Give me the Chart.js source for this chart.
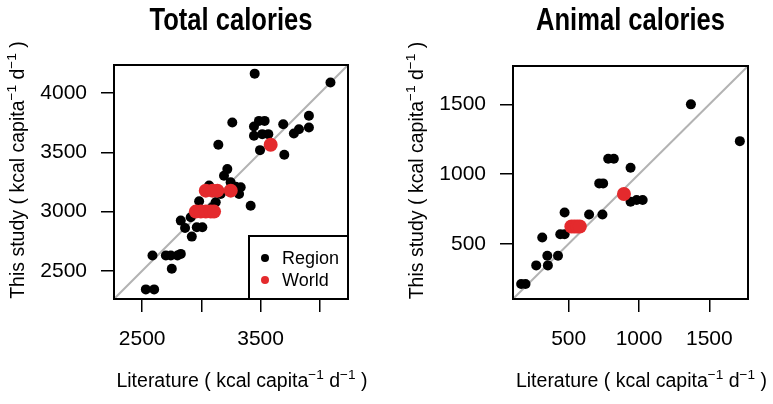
<!DOCTYPE html>
<html>
<head>
<meta charset="utf-8">
<script src="https://cdn.jsdelivr.net/npm/chart.js@4/dist/chart.umd.min.js"></script>
<style>
  body { margin: 0; background: #fff; }
  .wrap { display: flex; width: 773px; height: 404px; }
  canvas { display: block; }
</style>
</head>
<body>
<div class="wrap">
  <canvas id="total" width="386" height="404"></canvas>
  <canvas id="animal" width="387" height="404"></canvas>
</div>
<script>
// Total calories (kcal capita-1 d-1), literature vs this study
const totalRegionX = [3450, 4090, 3908, 3908, 3824, 3781, 3691, 3700, 3261, 3486, 3534, 3444, 3444, 3514, 3565, 3495,
  3143, 3219, 3191, 3247, 3332, 3318, 3163, 3416, 2981, 3121, 2826, 2862, 2961, 3008, 2919, 2910,
  2587, 2700, 2742, 2798, 2826, 2750, 2531, 2601, 3065, 3290, 3093];
const totalRegionY = [4165, 4090, 3809, 3710, 3696, 3660, 3738, 3480, 3753, 3766, 3766, 3719, 3640, 3654, 3654, 3519,
  3564, 3359, 3303, 3247, 3205, 3149, 3149, 3050, 3087, 3079, 2924, 2862, 2868, 2868, 2789, 2952,
  2629, 2629, 2629, 2629, 2643, 2517, 2343, 2343, 3220, 3210, 3036];
const totalWorldX = [3585, 3037, 3093, 3135, 3248, 2953, 2995, 3037, 3079, 3107];
const totalWorldY = [3564, 3177, 3177, 3177, 3177, 3000, 3000, 3000, 3000, 3000];

// Animal calories
const animalRegionX = [1369, 1717, 781, 821, 940, 717, 745, 940, 983, 1026, 471, 645, 740, 440, 471, 312, 348, 424, 269, 352, 162, 193];
const animalRegionY = [1500, 1236, 1110, 1110, 1045, 933, 933, 802, 814, 814, 724, 710, 710, 569, 569, 545, 414, 414, 345, 345, 212, 212];
const animalWorldX = [893, 519, 540, 560, 579];
const animalWorldY = [857, 624, 624, 624, 624];

// axes
const totalRange = [2262, 4238];
const animalRange = [104, 1775];
const totalTicks = [2500, 3000, 3500, 4000];
const totalXTickLabels = ['2500', '', '3500', ''];
const totalYTickLabels = ['2500', '3000', '3500', '4000'];
const animalTicks = [500, 1000, 1500];
const animalTickLabels = ['500', '1000', '1500'];

const seriesNames = ['Region', 'World'];
const seriesColors = ['#000000', '#e42a2d'];

const FONT = '"Liberation Sans", Arial, Helvetica, sans-serif';
const xTitle = [{ t: 'Literature ( kcal capita' }, { t: '\u22121', sup: true }, { t: ' d' }, { t: '\u22121', sup: true }, { t: ' )' }];
const yTitle = [{ t: 'This study ( kcal capita' }, { t: '\u22121', sup: true }, { t: ' d' }, { t: '\u22121', sup: true }, { t: ' )' }];

const toPoints = (xs, ys) => xs.map((x, i) => ({ x: x, y: ys[i] }));

// draws text with superscripts, centred on (0,0) baseline
function drawRich(ctx, parts, size) {
  let w = 0;
  parts.forEach(p => {
    ctx.font = (p.sup ? size * 0.7 : size) + 'px ' + FONT;
    p.w = ctx.measureText(p.t).width;
    w += p.w;
  });
  let x = -w / 2;
  parts.forEach(p => {
    ctx.font = (p.sup ? size * 0.7 : size) + 'px ' + FONT;
    ctx.fillText(p.t, x, p.sup ? -size * 0.42 : 0);
    x += p.w;
  });
}

const framePlugin = {
  id: 'frame',
  afterDraw(chart, args, opts) {
    const { ctx, chartArea: a } = chart;
    ctx.save();
    ctx.strokeStyle = '#000';
    ctx.lineWidth = 2;
    ctx.strokeRect(a.left, a.top, a.right - a.left, a.bottom - a.top);

    ctx.fillStyle = '#000';
    ctx.textBaseline = 'alphabetic';

    // panel title, bold and a bit condensed like the original
    ctx.save();
    ctx.textAlign = 'center';
    ctx.font = 'bold 31px ' + FONT;
    ctx.translate((a.left + a.right) / 2, 30);
    ctx.scale(0.825, 1);
    ctx.fillText(opts.title, 0, 0);
    ctx.restore();

    ctx.textAlign = 'left';
    // x axis title
    ctx.save();
    ctx.translate((a.left + a.right) / 2 + 11, a.bottom + 88);
    drawRich(ctx, xTitle, 19.5);
    ctx.restore();
    // y axis title
    ctx.save();
    ctx.translate(a.left - 90, (a.top + a.bottom) / 2 - 12);
    ctx.rotate(-Math.PI / 2);
    drawRich(ctx, yTitle, 19.5);
    ctx.restore();

    // legend
    if (opts.legend) {
      const bw = 99, bh = 63;
      const lx = a.right - bw, ly = a.bottom - bh;
      ctx.fillStyle = '#fff';
      ctx.fillRect(lx, ly, bw, bh);
      ctx.strokeRect(lx, ly, bw, bh);
      ctx.font = '18px ' + FONT;
      ctx.textBaseline = 'middle';
      seriesNames.forEach((name, i) => {
        const cy = ly + 22 + i * 22;
        ctx.fillStyle = seriesColors[i];
        ctx.beginPath();
        ctx.arc(lx + 16, cy, 4, 0, Math.PI * 2);
        ctx.fill();
        ctx.fillStyle = '#000';
        ctx.fillText(name, lx + 33, cy + 1);
      });
    }
    ctx.restore();
  }
};

function makePanel(id, cfg) {
  const axis = (ticks, labels, range, isY) => ({
    type: 'linear',
    min: range[0],
    max: range[1],
    afterBuildTicks: s => { s.ticks = ticks.map(v => ({ value: v })); },
    afterFit: s => { if (isY) s.width = cfg.yWidth; else s.height = 105; },
    grid: { drawOnChartArea: false, drawTicks: true, tickLength: 13, color: '#000', lineWidth: 1.5 },
    border: { display: false },
    ticks: {
      color: '#000',
      font: { size: 21, family: FONT },
      padding: isY ? 14 : 15,
      autoSkip: false,
      maxRotation: 0,
      callback: v => labels[ticks.indexOf(v)]
    }
  });

  return new Chart(document.getElementById(id), {
    type: 'scatter',
    data: {
      datasets: [
        {
          label: seriesNames[1],
          data: toPoints(cfg.worldX, cfg.worldY),
          backgroundColor: seriesColors[1],
          borderWidth: 0,
          pointRadius: 7,
          order: 0
        },
        {
          label: seriesNames[0],
          data: toPoints(cfg.regionX, cfg.regionY),
          backgroundColor: seriesColors[0],
          borderWidth: 0,
          pointRadius: 5,
          order: 1
        },
        {
          type: 'line',
          label: '1:1',
          data: [{ x: cfg.range[0], y: cfg.range[0] }, { x: cfg.range[1], y: cfg.range[1] }],
          borderColor: '#b3b3b3',
          borderWidth: 2,
          pointRadius: 0,
          order: 2
        }
      ]
    },
    options: {
      responsive: false,
      animation: false,
      devicePixelRatio: 1,
      layout: { padding: { top: cfg.topPad, right: cfg.rightPad, left: 0, bottom: 0 } },
      scales: {
        x: axis(cfg.ticks, cfg.xLabels, cfg.range, false),
        y: axis(cfg.ticks, cfg.yLabels, cfg.range, true)
      },
      plugins: {
        legend: { display: false },
        tooltip: { enabled: false },
        title: { display: false },
        frame: { legend: cfg.legend, title: cfg.title }
      }
    },
    plugins: [framePlugin]
  });
}

makePanel('total', {
  title: 'Total calories',
  regionX: totalRegionX, regionY: totalRegionY,
  worldX: totalWorldX, worldY: totalWorldY,
  range: totalRange, ticks: totalTicks,
  xLabels: totalXTickLabels, yLabels: totalYTickLabels,
  yWidth: 114, rightPad: 38, topPad: 65, legend: true
});

makePanel('animal', {
  title: 'Animal calories',
  regionX: animalRegionX, regionY: animalRegionY,
  worldX: animalWorldX, worldY: animalWorldY,
  range: animalRange, ticks: animalTicks,
  xLabels: animalTickLabels, yLabels: animalTickLabels,
  yWidth: 127, rightPad: 25, topPad: 66, legend: false
});
</script>
</body>
</html>
